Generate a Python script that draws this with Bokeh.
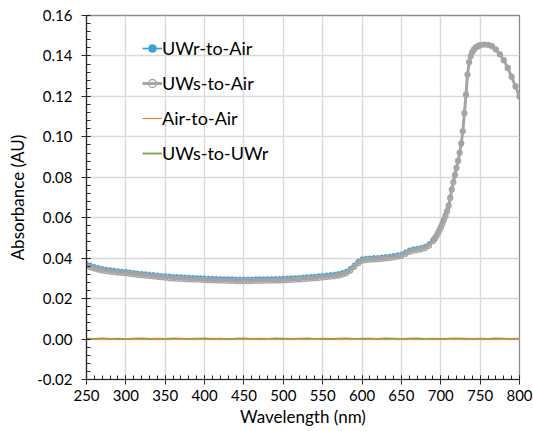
from bokeh.plotting import figure
from bokeh.models import Legend, LegendItem, PrintfTickFormatter, SingleIntervalTicker
from bokeh.embed import file_html
from bokeh.resources import INLINE

# Wavelength sample positions (nm)
wl_main = list(range(250, 691, 5)) + list(range(692, 751, 2)) + list(range(755, 801, 5))
wl_base = list(range(250, 801, 10))

uwr_to_air = [
    0.0375, 0.0367, 0.0360, 0.0355, 0.0350, 0.0347, 0.0344, 0.0342, 0.0339, 0.0337,
    0.0335, 0.0333, 0.0330, 0.0328, 0.0326, 0.0324, 0.0322, 0.0320, 0.0318, 0.0316,
    0.0314, 0.0313, 0.0311, 0.0310, 0.0309, 0.0308, 0.0307, 0.0306, 0.0305, 0.0304,
    0.0303, 0.0302, 0.0302, 0.0301, 0.0300, 0.0300, 0.0299, 0.0299, 0.0298, 0.0298,
    0.0298, 0.0298, 0.0298, 0.0299, 0.0299, 0.0299, 0.0300, 0.0300, 0.0301, 0.0301,
    0.0302, 0.0303, 0.0304, 0.0305, 0.0306, 0.0308, 0.0309, 0.0311, 0.0312, 0.0314,
    0.0316, 0.0318, 0.0320, 0.0322, 0.0325, 0.0330, 0.0337, 0.0350, 0.0368, 0.0386,
    0.0398, 0.0401, 0.0402, 0.0404, 0.0405, 0.0407, 0.0409, 0.0411, 0.0414, 0.0418,
    0.0422, 0.0432, 0.0442, 0.0447, 0.0450, 0.0454, 0.0460, 0.0472, 0.0494,
    0.0503, 0.0514, 0.0528, 0.0543, 0.0560, 0.0578, 0.0596, 0.0616, 0.0638, 0.0665,
    0.0705, 0.0745, 0.0780, 0.0815, 0.0850, 0.0885, 0.0925, 0.0970, 0.1030, 0.1120,
    0.1210, 0.1310, 0.1370, 0.1400, 0.1420, 0.1432, 0.1441, 0.1447, 0.1451, 0.1454,
    0.1457, 0.1456, 0.1449, 0.1433, 0.1409, 0.1380, 0.1342, 0.1298, 0.1250, 0.1200,
]

uws_to_air = [
    0.0362, 0.0355, 0.0349, 0.0344, 0.0339, 0.0336, 0.0333, 0.0331, 0.0329, 0.0327,
    0.0325, 0.0323, 0.0320, 0.0318, 0.0316, 0.0314, 0.0312, 0.0310, 0.0308, 0.0306,
    0.0304, 0.0302, 0.0300, 0.0299, 0.0298, 0.0297, 0.0296, 0.0295, 0.0294, 0.0293,
    0.0292, 0.0291, 0.0291, 0.0290, 0.0289, 0.0289, 0.0288, 0.0288, 0.0287, 0.0287,
    0.0287, 0.0287, 0.0287, 0.0288, 0.0288, 0.0288, 0.0289, 0.0289, 0.0290, 0.0290,
    0.0291, 0.0292, 0.0293, 0.0294, 0.0295, 0.0297, 0.0298, 0.0300, 0.0301, 0.0303,
    0.0305, 0.0307, 0.0309, 0.0311, 0.0314, 0.0319, 0.0326, 0.0339, 0.0357, 0.0375,
    0.0387, 0.0391, 0.0392, 0.0394, 0.0395, 0.0397, 0.0399, 0.0401, 0.0404, 0.0408,
    0.0412, 0.0421, 0.0431, 0.0437, 0.0440, 0.0444, 0.0450, 0.0462, 0.0484,
    0.0494, 0.0505, 0.0519, 0.0535, 0.0552, 0.0570, 0.0589, 0.0609, 0.0631, 0.0658,
    0.0698, 0.0739, 0.0775, 0.0810, 0.0846, 0.0881, 0.0921, 0.0967, 0.1027, 0.1117,
    0.1208, 0.1308, 0.1369, 0.1399, 0.1419, 0.1431, 0.1440, 0.1446, 0.1450, 0.1453,
    0.1456, 0.1455, 0.1448, 0.1432, 0.1408, 0.1379, 0.1341, 0.1297, 0.1249, 0.1199,
]

air_to_air = [
    0.0000, -0.0001, 0.0001, 0.0000, -0.0002, 0.0000, 0.0001, -0.0001, 0.0000, 0.0002,
    -0.0001, 0.0000, 0.0001, -0.0001, 0.0000, 0.0000, -0.0002, 0.0001, 0.0000, -0.0001,
    0.0001, 0.0000, -0.0001, 0.0002, 0.0000, -0.0001, 0.0000, 0.0001, -0.0001, 0.0000,
    0.0001, -0.0002, 0.0000, 0.0001, 0.0000, -0.0001, 0.0000, 0.0002, -0.0001, 0.0000,
    0.0001, 0.0000, -0.0001, 0.0000, 0.0001, -0.0002, 0.0000, 0.0001, -0.0001, 0.0000,
    0.0001, 0.0000, -0.0001, 0.0000, 0.0001, 0.0000,
]

uws_to_uwr = [
    0.0002, 0.0001, 0.0003, 0.0001, 0.0002, 0.0000, 0.0002, 0.0003, 0.0001, 0.0002,
    0.0001, 0.0003, 0.0002, 0.0001, 0.0002, 0.0003, 0.0001, 0.0002, 0.0000, 0.0002,
    0.0003, 0.0001, 0.0002, 0.0001, 0.0003, 0.0002, 0.0001, 0.0002, 0.0003, 0.0001,
    0.0002, 0.0001, 0.0002, 0.0003, 0.0001, 0.0002, 0.0002, 0.0001, 0.0003, 0.0002,
    0.0001, 0.0002, 0.0003, 0.0001, 0.0002, 0.0001, 0.0002, 0.0003, 0.0002, 0.0001,
    0.0002, 0.0001, 0.0003, 0.0002, 0.0001, 0.0002,
]

series_names = ["UWr-to-Air", "UWs-to-Air", "Air-to-Air", "UWs-to-UWr"]

assert len(wl_main) == len(uwr_to_air) == len(uws_to_air)
assert len(wl_base) == len(air_to_air) == len(uws_to_uwr)

FONT = "Lato"

p = figure(width=533, height=431, x_range=(250, 800), y_range=(-0.02, 0.16),
           output_backend="svg", toolbar_location=None,
           min_border_left=86, min_border_right=14, min_border_top=15, min_border_bottom=52)
p.background_fill_color = "white"
p.border_fill_color = "white"
p.outline_line_color = "#8C8C8C"
p.outline_line_width = 1.3

p.xaxis.ticker = SingleIntervalTicker(interval=50, num_minor_ticks=5)
p.yaxis.ticker = SingleIntervalTicker(interval=0.02, num_minor_ticks=5)
p.yaxis.formatter = PrintfTickFormatter(format="%.2f")

for ax in (p.xaxis[0], p.yaxis[0]):
    ax.axis_line_color = "#262626"
    ax.axis_line_width = 1.2
    ax.major_tick_line_color = "#262626"
    ax.minor_tick_line_color = "#262626"
    ax.major_tick_in = 4
    ax.major_tick_out = 5
    ax.minor_tick_in = 4
    ax.minor_tick_out = 0
    ax.major_label_text_font = FONT
    ax.major_label_text_font_size = "15px"
    ax.major_label_text_color = "#000000"
    ax.axis_label_text_font = FONT
    ax.axis_label_text_font_size = "17px"
    ax.axis_label_text_font_style = "normal"
    ax.axis_label_text_color = "#000000"

p.xaxis.axis_label = "Wavelength (nm)"
p.yaxis.axis_label = "Absorbance (AU)"
p.xaxis.major_label_standoff = 5
p.xaxis.axis_label_standoff = 2
p.yaxis.major_label_standoff = 9
p.yaxis.axis_label_standoff = 6

p.xgrid.grid_line_color = "#D9D9D9"
p.ygrid.grid_line_color = "#D9D9D9"
p.xgrid.grid_line_width = 1.4
p.ygrid.grid_line_width = 1.4

BLUE = "#22A7E6"
BLUE_DOT = "#3E9FD2"
GRAY = "#A5A5A5"
ORANGE = "#ED7D31"
GREEN = "#70AD47"

# blue series underneath, gray series drawn over it
l1 = p.line(wl_main, uwr_to_air, line_color=BLUE, line_width=1.6)
s1 = p.scatter(wl_main, uwr_to_air, marker="circle", size=4, fill_color=BLUE_DOT,
               line_color=BLUE_DOT, line_width=0.5)

l2 = p.line(wl_main, uws_to_air, line_color=GRAY, line_width=3)
s2 = p.scatter(wl_main, uws_to_air, marker="circle", size=5, fill_alpha=0,
               line_color=GRAY, line_width=1.3)

l4 = p.line(wl_base, uws_to_uwr, line_color=GREEN, line_width=1.8)
l3 = p.line(wl_base, air_to_air, line_color=ORANGE, line_width=1.1)

legend = Legend(items=[
    LegendItem(label=series_names[0], renderers=[l1, s1]),
    LegendItem(label=series_names[1], renderers=[l2, s2]),
    LegendItem(label=series_names[2], renderers=[l3]),
    LegendItem(label=series_names[3], renderers=[l4]),
], location=(56, 215))
legend.background_fill_alpha = 0
legend.border_line_alpha = 0
legend.padding = 0
legend.margin = 0
legend.spacing = 13
legend.label_height = 20
legend.glyph_height = 20
legend.glyph_width = 20
legend.label_standoff = 0
legend.label_text_font = FONT
legend.label_text_font_size = "18px"
legend.label_text_color = "#000000"
p.add_layout(legend)

open("out.html", "w").write(file_html(p, INLINE))
